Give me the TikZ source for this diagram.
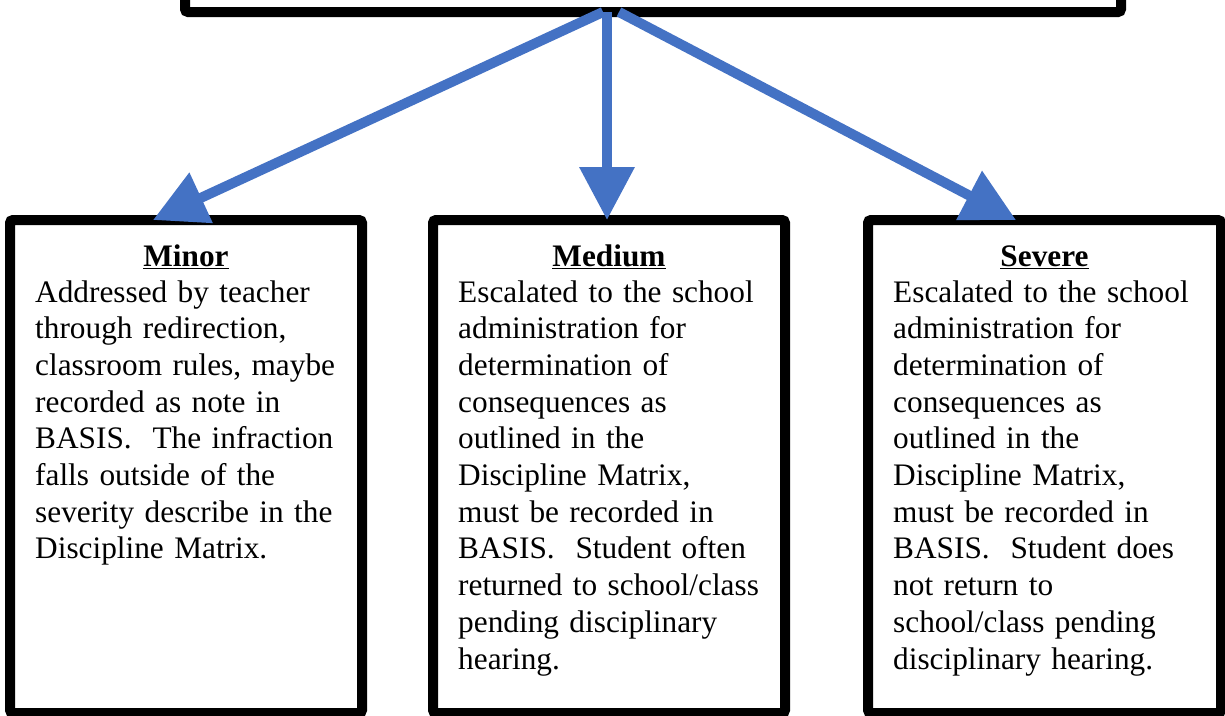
\documentclass[tikz,border=0pt]{standalone}
\usepackage{fontspec}
\setmainfont{Liberation Serif}
\usetikzlibrary{arrows.meta}
\definecolor{flowblue}{HTML}{4472C4}

\begin{document}
\begin{tikzpicture}[x=1pt, y=-1pt,
    box/.style={draw=black, line width=10pt, rounded corners=3pt, inner sep=0pt, outer sep=0pt},
    head/.style={inner sep=0pt, font=\fontsize{31.3pt}{36.7pt}\selectfont\bfseries},
    body/.style={inner sep=0pt, text width=330pt, align=left, font=\fontsize{31.3pt}{36.7pt}\selectfont\frenchspacing},
    flow/.style={draw=flowblue, fill=flowblue, line width=10pt, -{Triangle[length=53pt, width=53pt]}}]
    % page size
    \useasboundingbox (0,0) rectangle (1225,715);

    % draw the boxes
    \node[box, minimum width=936pt, minimum height=104pt] (top) at (653,-40) {};
    \node[box, anchor=north, minimum width=352pt, minimum height=493pt] (minor) at (186,220) {};
    \node[box, anchor=north, minimum width=352pt, minimum height=493pt] (medium) at (609,220) {};
    \node[box, anchor=north, minimum width=353pt, minimum height=493pt] (severe) at (1044.5,220) {};

    % draw the texts
    \node[head, anchor=base] (minorhead) at ([yshift=-46pt]minor.north) {\underline{Minor}};
    \node[body, anchor=base west] (minortext) at ([xshift=25pt,yshift=-82pt]minor.north west)
        {Addressed by teacher\\ through redirection,\\ classroom rules, maybe\\ recorded as note in\\
         BASIS.\ \ The infraction\\ falls outside of the\\ severity describe in the\\ Discipline Matrix.};
    \node[head, anchor=base] (mediumhead) at ([yshift=-46pt]medium.north) {\underline{Medium}};
    \node[body, anchor=base west] (mediumtext) at ([xshift=25pt,yshift=-82pt]medium.north west)
        {Escalated to the school\\ administration for\\ determination of\\ consequences as\\ outlined in the\\
         Discipline Matrix,\\ must be recorded in\\ BASIS.\ \ Student often\\ returned to school/class\\
         pending disciplinary\\ hearing.};
    \node[head, anchor=base] (severehead) at ([yshift=-46pt]severe.north) {\underline{Severe}};
    \node[body, anchor=base west] (severetext) at ([xshift=25pt,yshift=-82pt]severe.north west)
        {Escalated to the school\\ administration for\\ determination of\\ consequences as\\ outlined in the\\
         Discipline Matrix,\\ must be recorded in\\ BASIS.\ \ Student does\\ not return to\\
         school/class pending\\ disciplinary hearing.};

    % draw the arrows
    \draw[flow] ([xshift=-50pt]top.south) -- ([xshift=143pt]minor.north west);
    \draw[flow] ([xshift=-46pt]top.south) -- ([xshift=-2pt]medium.north);
    \draw[flow] ([xshift=-34pt]top.south) -- ([xshift=-28.5pt]severe.north);
\end{tikzpicture}
\end{document}
